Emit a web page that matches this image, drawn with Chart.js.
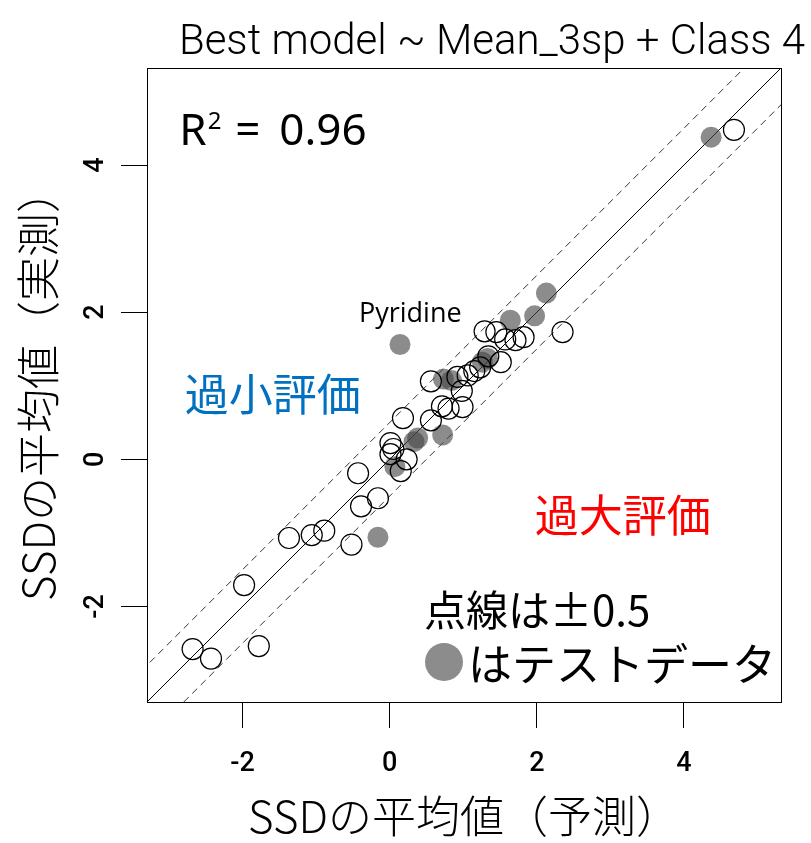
<!DOCTYPE html>
<html>
<head>
<meta charset="utf-8">
<script src="https://cdn.jsdelivr.net/npm/chart.js@4.4.0/dist/chart.umd.min.js"></script>
<style>
  html, body { margin: 0; padding: 0; background: #fff; }
</style>
</head>
<body>
<canvas id="chart" width="811" height="843"></canvas>
<script>
// Training compounds (open circles): predicted vs observed SSD mean
const trainX = [4.68, 2.35, 1.29, 1.45, 1.57, 1.71, 1.82, 1.34, 1.51, 1.23,
                0.56, 0.92, 1.06, 1.15, 0.98, 0.71, 0.80, 0.99, 0.18, 0.56,
                0.01, 0.05, 0.01, 0.23, 0.15, -0.43, -0.16, -0.39, -1.37, -1.06,
                -0.89, -0.52, -1.98, -2.68, -2.43, -1.78];
const trainY = [4.48, 1.73, 1.74, 1.73, 1.63, 1.62, 1.66, 1.40, 1.32, 1.25,
                1.06, 1.12, 1.14, 1.20, 0.93, 0.72, 0.69, 0.71, 0.56, 0.53,
                0.22, 0.14, 0.07, 0.00, -0.16, -0.19, -0.53, -0.64, -1.07, -1.03,
                -0.97, -1.16, -1.71, -2.58, -2.71, -2.54];

// Test compounds (filled grey)
const testX = [4.37, 2.13, 1.97, 1.64, 0.14, 1.26, 1.33, 0.73, 0.84, 0.38, 0.33, 0.72, 0.07, -0.16];
const testY = [4.38, 2.26, 1.95, 1.89, 1.56, 1.32, 1.37, 1.09, 1.07, 0.29, 0.24, 0.33, -0.10, -1.06];

const xTicks = [-2, 0, 2, 4];
const yTicks = [-2, 0, 2, 4];
const axisMin = -3.3;
const axisMax = 5.32;
const band = 0.5;

const testColor = 'rgba(70, 70, 70, 0.62)';
const narrowFont = "'Liberation Sans Narrow', 'Roboto', sans-serif";
const jpFont = "'Noto Sans CJK JP', 'Noto Sans', sans-serif";

function toPoints(xs, ys) {
  return xs.map((x, i) => ({ x: x, y: ys[i] }));
}

function guideLine(offset) {
  return [
    { x: axisMin - 1, y: axisMin - 1 + offset },
    { x: axisMax + 1, y: axisMax + 1 + offset }
  ];
}

// Frame and text annotations
const decorations = {
  id: 'decorations',
  afterDraw(chart) {
    const ctx = chart.ctx;
    const area = chart.chartArea;
    const xs = chart.scales.x;
    const ys = chart.scales.y;
    ctx.save();

    // box around plot region
    ctx.strokeStyle = '#000';
    ctx.lineWidth = 1;
    ctx.strokeRect(area.left + 0.5, area.top + 0.5, area.right - area.left, area.bottom - area.top);

    // title
    ctx.fillStyle = '#000';
    ctx.textBaseline = 'alphabetic';
    ctx.textAlign = 'center';
    ctx.font = '300 42px ' + narrowFont;
    ctx.fillText('Best model ~ Mean_3sp + Class 4', 492, 54);

    // R^2
    ctx.textAlign = 'left';
    const rx = xs.getPixelForValue(-2.86);
    const ry = ys.getPixelForValue(4.27);
    ctx.font = '44px ' + "'Noto Sans', sans-serif";
    ctx.fillText('R', rx, ry);
    const rw = ctx.measureText('R').width;
    ctx.font = '24px ' + "'Noto Sans', sans-serif";
    ctx.fillText('2', rx + rw + 1, ry - 16);
    ctx.font = '44px ' + "'Noto Sans', sans-serif";
    ctx.fillText('=', rx + 56, ry);
    ctx.fillText('0.96', rx + 100, ry);

    // Pyridine label
    ctx.textAlign = 'center';
    ctx.font = '27px ' + "'Open Sans', 'Noto Sans', sans-serif";
    ctx.fillText('Pyridine', xs.getPixelForValue(0.28), ys.getPixelForValue(1.86));

    // region labels
    ctx.textBaseline = 'middle';
    ctx.font = '44px ' + jpFont;
    ctx.fillStyle = '#0070C0';
    ctx.fillText('過小評価', xs.getPixelForValue(-1.59), ys.getPixelForValue(0.88));
    ctx.fillStyle = '#FF0000';
    ctx.fillText('過大評価', xs.getPixelForValue(3.17), ys.getPixelForValue(-0.76));

    // notes
    ctx.fillStyle = '#000';
    ctx.textAlign = 'left';
    ctx.font = '42px ' + jpFont;
    ctx.fillText('点線は±0.5', 424, 610);
    ctx.fillStyle = testColor;
    ctx.beginPath();
    ctx.arc(444, 662, 19, 0, Math.PI * 2);
    ctx.fill();
    ctx.fillStyle = '#000';
    ctx.font = '44px ' + jpFont;
    ctx.fillText('はテストデータ', 468, 664);

    ctx.restore();
  }
};

const axisGrid = {
  display: true,
  drawOnChartArea: false,
  drawTicks: true,
  tickLength: 26,
  color: '#000',
  tickColor: '#000',
  lineWidth: 1
};

new Chart(document.getElementById('chart').getContext('2d'), {
  type: 'scatter',
  data: {
    datasets: [
      {
        label: 'train',
        data: toPoints(trainX, trainY),
        pointRadius: 10.5,
        pointHoverRadius: 10.5,
        borderColor: '#000',
        borderWidth: 1.2,
        backgroundColor: 'rgba(0,0,0,0)',
        order: 1
      },
      {
        label: 'test',
        data: toPoints(testX, testY),
        pointRadius: 10.5,
        pointHoverRadius: 10.5,
        borderWidth: 0,
        backgroundColor: testColor,
        order: 2
      },
      {
        label: '1:1',
        data: guideLine(0),
        showLine: true,
        pointRadius: 0,
        borderColor: '#000',
        borderWidth: 1,
        order: 3
      },
      {
        label: '+0.5',
        data: guideLine(band),
        showLine: true,
        pointRadius: 0,
        borderColor: '#333',
        borderWidth: 1,
        borderDash: [7, 5],
        order: 3
      },
      {
        label: '-0.5',
        data: guideLine(-band),
        showLine: true,
        pointRadius: 0,
        borderColor: '#333',
        borderWidth: 1,
        borderDash: [7, 5],
        order: 3
      }
    ]
  },
  options: {
    responsive: false,
    animation: false,
    events: [],
    layout: { padding: { left: 0, right: 30, top: 68, bottom: 0 } },
    plugins: {
      legend: { display: false },
      title: { display: false },
      tooltip: { enabled: false }
    },
    scales: {
      x: {
        type: 'linear',
        min: axisMin,
        max: axisMax,
        afterBuildTicks: (scale) => { scale.ticks = xTicks.map(v => ({ value: v })); },
        afterFit: (scale) => { scale.height = 141; },
        grid: axisGrid,
        border: { display: true, color: '#000', width: 1 },
        ticks: {
          padding: 20,
          color: '#000',
          font: { family: narrowFont, size: 27, weight: '500' }
        },
        title: {
          display: true,
          text: 'SSDの平均値（予測）',
          color: '#000',
          padding: { top: 0, bottom: 0 },
          font: { family: jpFont, size: 44, weight: '300' }
        }
      },
      y: {
        type: 'linear',
        min: axisMin,
        max: axisMax,
        afterBuildTicks: (scale) => { scale.ticks = yTicks.map(v => ({ value: v })); },
        afterFit: (scale) => { scale.width = 147; },
        grid: axisGrid,
        border: { display: true, color: '#000', width: 1 },
        ticks: {
          padding: 12,
          minRotation: 90,
          maxRotation: 90,
          crossAlign: 'center',
          color: '#000',
          font: { family: narrowFont, size: 27, weight: '500' }
        },
        title: {
          display: true,
          text: 'SSDの平均値（実測）',
          color: '#000',
          padding: { top: 12, bottom: 0 },
          font: { family: jpFont, size: 44, weight: '300' }
        }
      }
    }
  },
  plugins: [decorations]
});
</script>
</body>
</html>
